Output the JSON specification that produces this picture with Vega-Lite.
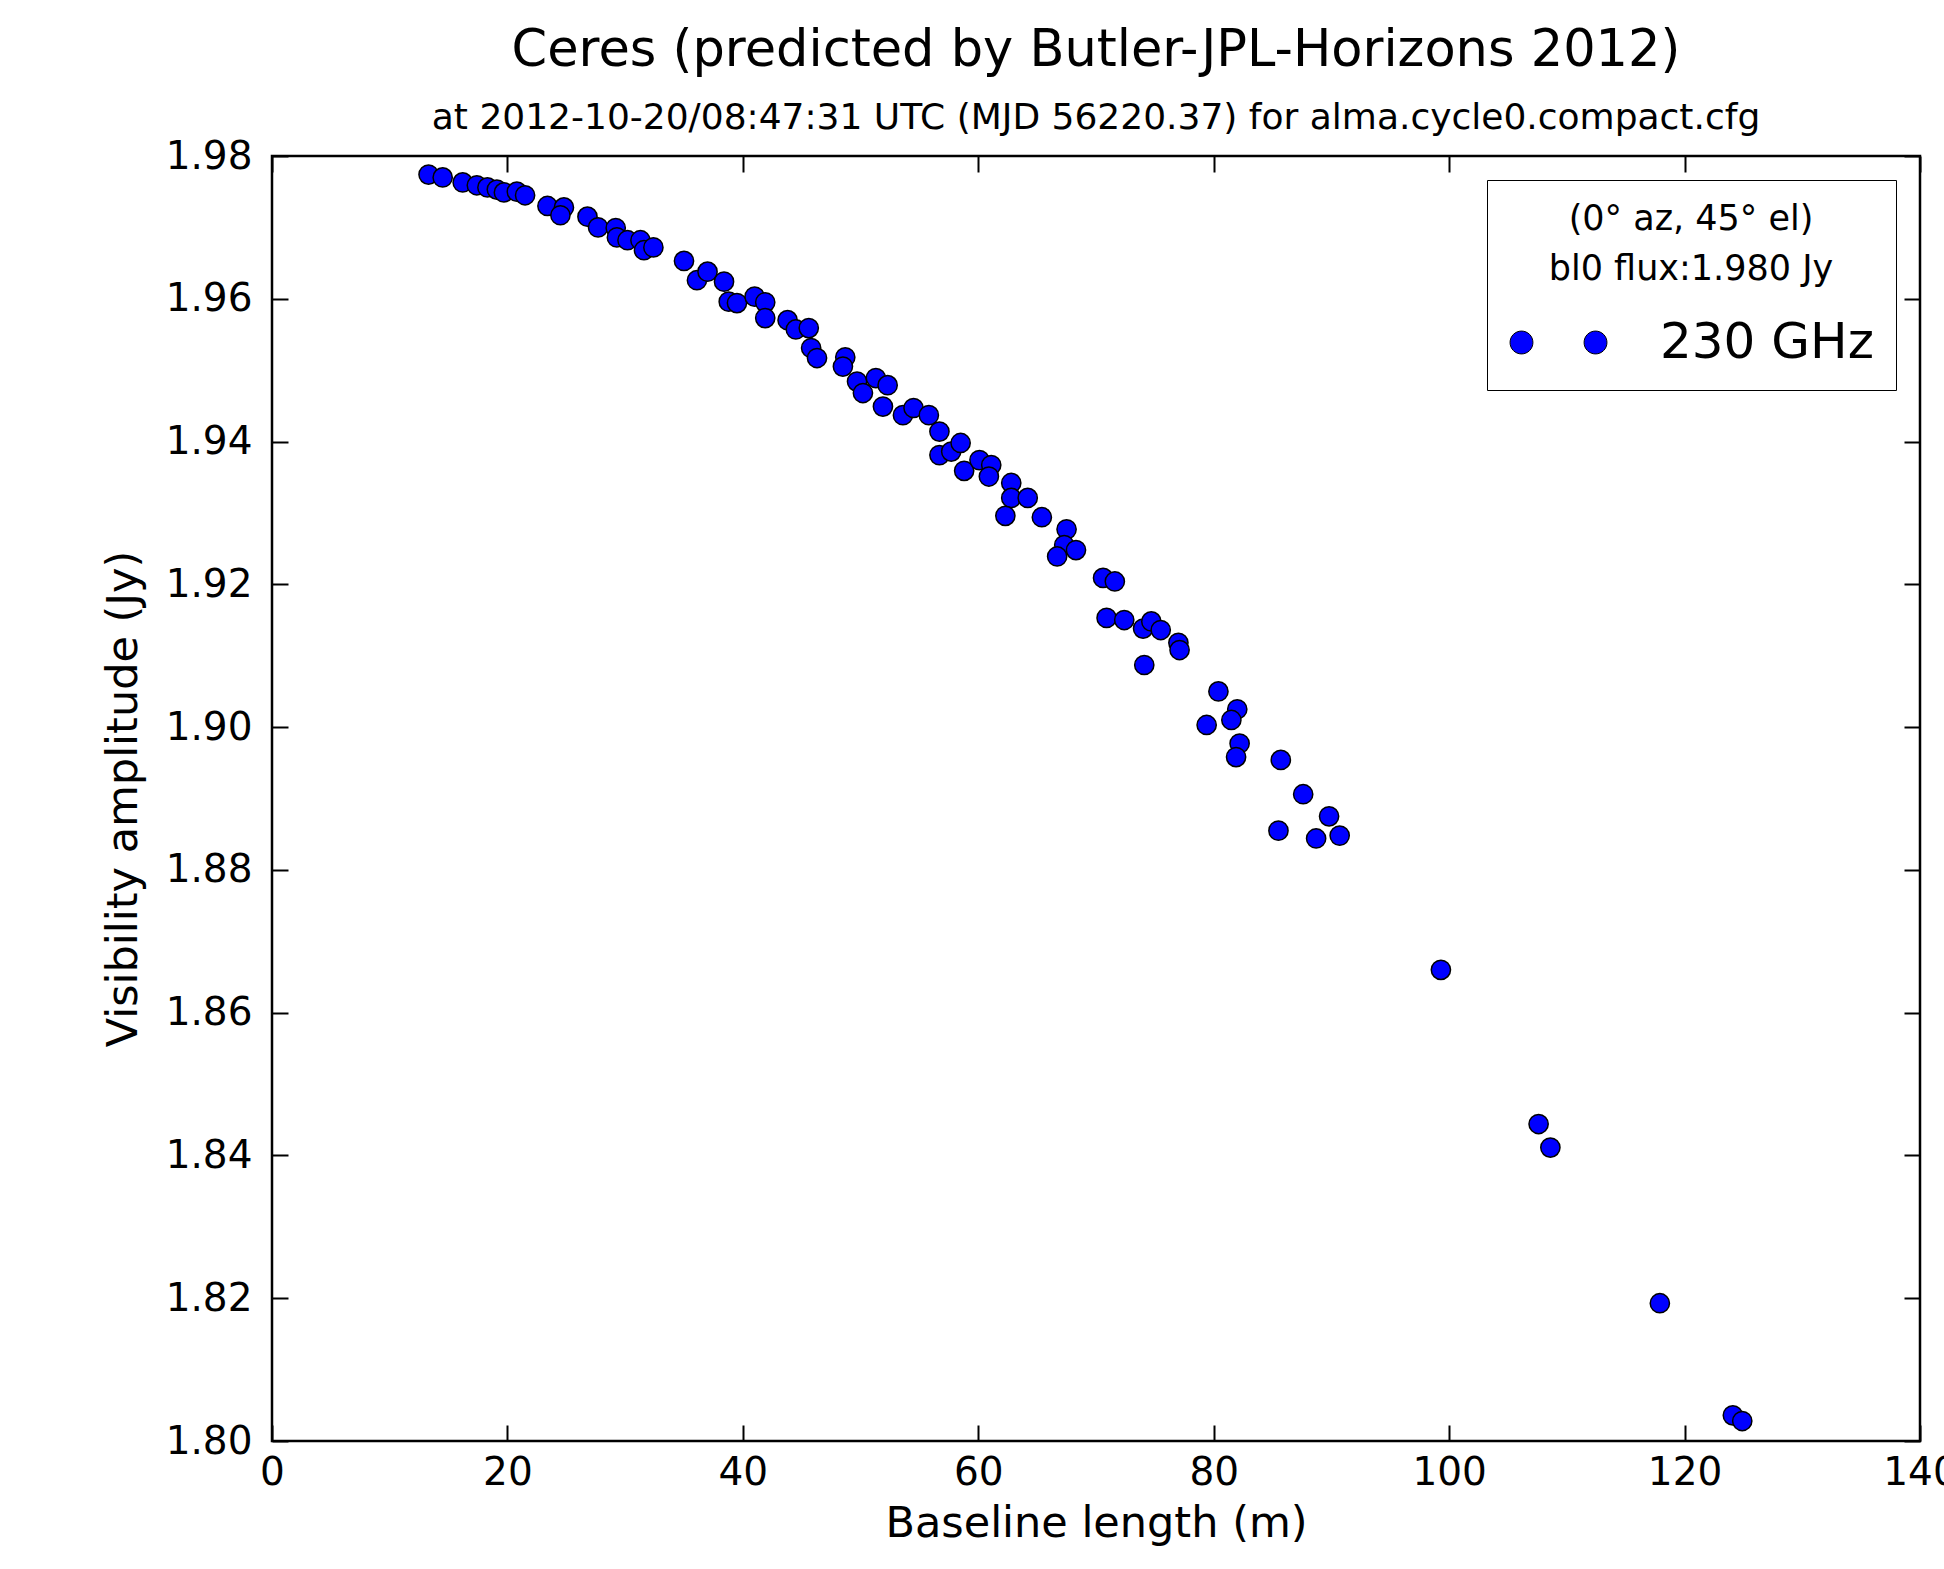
{
  "$schema": "https://vega.github.io/schema/vega-lite/v6.json",
  "width": 1648,
  "height": 1285,
  "autosize": {"type": "none"},
  "padding": {"left": 272, "top": 156, "right": 24, "bottom": 128},
  "background": "white",
  "config": {
    "font": "DejaVu Sans",
    "view": {"stroke": "black", "strokeWidth": 2.5},
    "axis": {
      "grid": false,
      "domain": false,
      "tickColor": "black",
      "tickWidth": 2,
      "tickSize": -16,
      "labelColor": "black",
      "labelFontSize": 39,
      "titleFontSize": 43,
      "titleFontWeight": "normal",
      "titleColor": "black",
      "labelFont": "DejaVu Sans",
      "titleFont": "DejaVu Sans",
      "labelFlush": false,
      "labelOverlap": false
    }
  },
  "title": {
    "text": "Ceres (predicted by Butler-JPL-Horizons 2012)",
    "subtitle": "at 2012-10-20/08:47:31 UTC (MJD 56220.37) for alma.cycle0.compact.cfg",
    "fontSize": 51,
    "subtitleFontSize": 36,
    "fontWeight": "normal",
    "color": "black",
    "subtitleColor": "black",
    "font": "DejaVu Sans",
    "subtitleFont": "DejaVu Sans",
    "anchor": "middle",
    "offset": 0,
    "subtitlePadding": 24
  },
  "data": {
    "values": [
      {"baseline": 13.3, "amp": 1.9774, "band": "230 GHz"},
      {"baseline": 14.5, "amp": 1.9770, "band": "230 GHz"},
      {"baseline": 16.2, "amp": 1.9763, "band": "230 GHz"},
      {"baseline": 17.4, "amp": 1.9759, "band": "230 GHz"},
      {"baseline": 18.3, "amp": 1.9756, "band": "230 GHz"},
      {"baseline": 19.1, "amp": 1.9753, "band": "230 GHz"},
      {"baseline": 19.7, "amp": 1.9749, "band": "230 GHz"},
      {"baseline": 20.8, "amp": 1.9750, "band": "230 GHz"},
      {"baseline": 21.5, "amp": 1.9745, "band": "230 GHz"},
      {"baseline": 23.4, "amp": 1.9730, "band": "230 GHz"},
      {"baseline": 24.8, "amp": 1.9728, "band": "230 GHz"},
      {"baseline": 24.5, "amp": 1.9717, "band": "230 GHz"},
      {"baseline": 26.8, "amp": 1.9715, "band": "230 GHz"},
      {"baseline": 27.7, "amp": 1.9700, "band": "230 GHz"},
      {"baseline": 29.2, "amp": 1.9699, "band": "230 GHz"},
      {"baseline": 29.3, "amp": 1.9686, "band": "230 GHz"},
      {"baseline": 30.2, "amp": 1.9682, "band": "230 GHz"},
      {"baseline": 31.3, "amp": 1.9682, "band": "230 GHz"},
      {"baseline": 31.6, "amp": 1.9668, "band": "230 GHz"},
      {"baseline": 32.4, "amp": 1.9672, "band": "230 GHz"},
      {"baseline": 35.0, "amp": 1.9653, "band": "230 GHz"},
      {"baseline": 36.1, "amp": 1.9626, "band": "230 GHz"},
      {"baseline": 37.0, "amp": 1.9638, "band": "230 GHz"},
      {"baseline": 38.4, "amp": 1.9624, "band": "230 GHz"},
      {"baseline": 38.8, "amp": 1.9596, "band": "230 GHz"},
      {"baseline": 39.5, "amp": 1.9594, "band": "230 GHz"},
      {"baseline": 41.0, "amp": 1.9603, "band": "230 GHz"},
      {"baseline": 41.9, "amp": 1.9595, "band": "230 GHz"},
      {"baseline": 41.9, "amp": 1.9573, "band": "230 GHz"},
      {"baseline": 43.8, "amp": 1.9570, "band": "230 GHz"},
      {"baseline": 44.5, "amp": 1.9557, "band": "230 GHz"},
      {"baseline": 45.6, "amp": 1.9559, "band": "230 GHz"},
      {"baseline": 45.8, "amp": 1.9531, "band": "230 GHz"},
      {"baseline": 46.3, "amp": 1.9517, "band": "230 GHz"},
      {"baseline": 48.7, "amp": 1.9518, "band": "230 GHz"},
      {"baseline": 48.5, "amp": 1.9505, "band": "230 GHz"},
      {"baseline": 49.7, "amp": 1.9484, "band": "230 GHz"},
      {"baseline": 50.2, "amp": 1.9468, "band": "230 GHz"},
      {"baseline": 51.3, "amp": 1.9489, "band": "230 GHz"},
      {"baseline": 52.3, "amp": 1.9479, "band": "230 GHz"},
      {"baseline": 51.9, "amp": 1.9449, "band": "230 GHz"},
      {"baseline": 53.6, "amp": 1.9437, "band": "230 GHz"},
      {"baseline": 54.5, "amp": 1.9447, "band": "230 GHz"},
      {"baseline": 55.8, "amp": 1.9437, "band": "230 GHz"},
      {"baseline": 56.7, "amp": 1.9414, "band": "230 GHz"},
      {"baseline": 56.7, "amp": 1.9381, "band": "230 GHz"},
      {"baseline": 57.7, "amp": 1.9386, "band": "230 GHz"},
      {"baseline": 58.5, "amp": 1.9398, "band": "230 GHz"},
      {"baseline": 58.8, "amp": 1.9359, "band": "230 GHz"},
      {"baseline": 60.1, "amp": 1.9374, "band": "230 GHz"},
      {"baseline": 61.1, "amp": 1.9367, "band": "230 GHz"},
      {"baseline": 60.9, "amp": 1.9351, "band": "230 GHz"},
      {"baseline": 62.8, "amp": 1.9342, "band": "230 GHz"},
      {"baseline": 62.8, "amp": 1.9321, "band": "230 GHz"},
      {"baseline": 64.2, "amp": 1.9321, "band": "230 GHz"},
      {"baseline": 62.3, "amp": 1.9296, "band": "230 GHz"},
      {"baseline": 65.4, "amp": 1.9294, "band": "230 GHz"},
      {"baseline": 67.5, "amp": 1.9277, "band": "230 GHz"},
      {"baseline": 67.3, "amp": 1.9255, "band": "230 GHz"},
      {"baseline": 68.3, "amp": 1.9248, "band": "230 GHz"},
      {"baseline": 66.7, "amp": 1.9239, "band": "230 GHz"},
      {"baseline": 70.6, "amp": 1.9209, "band": "230 GHz"},
      {"baseline": 71.6, "amp": 1.9204, "band": "230 GHz"},
      {"baseline": 70.9, "amp": 1.9153, "band": "230 GHz"},
      {"baseline": 72.4, "amp": 1.9150, "band": "230 GHz"},
      {"baseline": 74.0, "amp": 1.9138, "band": "230 GHz"},
      {"baseline": 74.7, "amp": 1.9148, "band": "230 GHz"},
      {"baseline": 75.5, "amp": 1.9136, "band": "230 GHz"},
      {"baseline": 77.0, "amp": 1.9118, "band": "230 GHz"},
      {"baseline": 77.1, "amp": 1.9108, "band": "230 GHz"},
      {"baseline": 74.1, "amp": 1.9087, "band": "230 GHz"},
      {"baseline": 80.4, "amp": 1.9050, "band": "230 GHz"},
      {"baseline": 82.0, "amp": 1.9025, "band": "230 GHz"},
      {"baseline": 81.5, "amp": 1.9010, "band": "230 GHz"},
      {"baseline": 79.4, "amp": 1.9003, "band": "230 GHz"},
      {"baseline": 82.2, "amp": 1.8977, "band": "230 GHz"},
      {"baseline": 81.9, "amp": 1.8958, "band": "230 GHz"},
      {"baseline": 85.7, "amp": 1.8954, "band": "230 GHz"},
      {"baseline": 87.6, "amp": 1.8906, "band": "230 GHz"},
      {"baseline": 89.8, "amp": 1.8875, "band": "230 GHz"},
      {"baseline": 85.5, "amp": 1.8855, "band": "230 GHz"},
      {"baseline": 88.7, "amp": 1.8844, "band": "230 GHz"},
      {"baseline": 90.7, "amp": 1.8848, "band": "230 GHz"},
      {"baseline": 99.3, "amp": 1.8660, "band": "230 GHz"},
      {"baseline": 107.6, "amp": 1.8444, "band": "230 GHz"},
      {"baseline": 108.6, "amp": 1.8411, "band": "230 GHz"},
      {"baseline": 117.9, "amp": 1.8193, "band": "230 GHz"},
      {"baseline": 124.1, "amp": 1.8036, "band": "230 GHz"},
      {"baseline": 124.9, "amp": 1.8028, "band": "230 GHz"}
    ]
  },
  "layer": [
    {
      "mark": {"type": "point", "filled": true, "shape": "circle", "size": 370, "stroke": "black", "strokeWidth": 1.5, "opacity": 1},
      "encoding": {
        "x": {
          "field": "baseline", "type": "quantitative",
          "scale": {"domain": [0, 140], "nice": false, "zero": false},
          "axis": {"title": "Baseline length (m)", "values": [0, 20, 40, 60, 80, 100, 120, 140], "format": "d", "labelPadding": 28, "titlePadding": 10}
        },
        "y": {
          "field": "amp", "type": "quantitative",
          "scale": {"domain": [1.8, 1.98], "nice": false, "zero": false},
          "axis": {"title": "Visibility amplitude (Jy)", "values": [1.8, 1.82, 1.84, 1.86, 1.88, 1.9, 1.92, 1.94, 1.96, 1.98], "format": ".2f", "labelPadding": 36, "titlePadding": 20}
        },
        "color": {
          "field": "band", "type": "nominal",
          "scale": {"range": ["#0000ff"]},
          "legend": {
            "title": ["(0°  az, 45°  el)", " bl0 flux:1.980 Jy"],
            "orient": "top-right",
            "offset": 24,
            "strokeColor": "black",
            "fillColor": "white",
            "padding": 22,
            "titleFontSize": 35,
            "titleFontWeight": "normal",
            "titleColor": "black",
            "titleAnchor": "middle",
            "titleAlign": "center",
            "titleLineHeight": 50,
            "titlePadding": 6,
            "titleLimit": 800,
            "labelLimit": 600,
            "labelFontSize": 50,
            "labelColor": "black",
            "labelOffset": 52,
            "symbolType": "M -0.995 0 A 0.235 0.235 0 1 0 -0.525 0 A 0.235 0.235 0 1 0 -0.995 0 Z M 0.525 0 A 0.235 0.235 0 1 0 0.995 0 A 0.235 0.235 0 1 0 0.525 0 Z",
            "symbolSize": 9487,
            "symbolStrokeColor": "black",
            "symbolStrokeWidth": 1,
            "symbolOpacity": 1
          }
        }
      }
    },
    {
      "mark": {"type": "point", "opacity": 0},
      "encoding": {
        "x": {
          "field": "baseline", "type": "quantitative",
          "scale": {"domain": [0, 140], "nice": false, "zero": false},
          "axis": {"orient": "top", "labels": false, "title": null, "values": [0, 20, 40, 60, 80, 100, 120, 140]}
        },
        "y": {
          "field": "amp", "type": "quantitative",
          "scale": {"domain": [1.8, 1.98], "nice": false, "zero": false},
          "axis": {"orient": "right", "labels": false, "title": null, "values": [1.8, 1.82, 1.84, 1.86, 1.88, 1.9, 1.92, 1.94, 1.96, 1.98]}
        }
      }
    }
  ],
  "resolve": {"axis": {"x": "independent", "y": "independent"}}
}
